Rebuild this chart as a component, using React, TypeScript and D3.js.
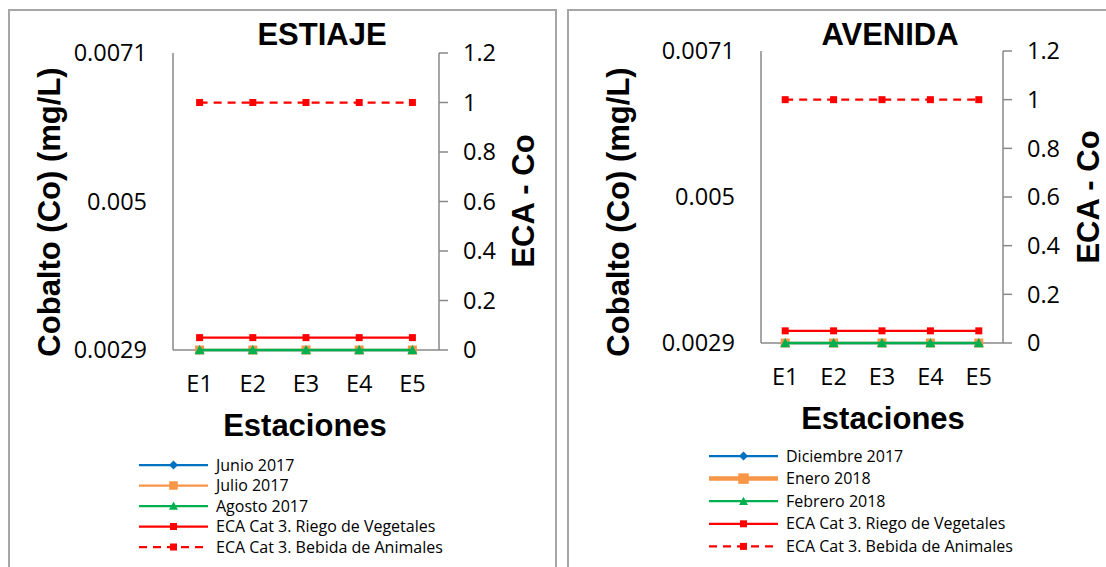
import React from "react";
import * as d3 from "d3";

// ---------- data ----------
const stations = ["E1", "E2", "E3", "E4", "E5"];
const coTicks = [0.0029, 0.005, 0.0071];
const ecaTicks = [0, 0.2, 0.4, 0.6, 0.8, 1, 1.2];

// Estiaje
const junio2017 = [0.0029, 0.0029, 0.0029, 0.0029, 0.0029];
const julio2017 = [0.0029, 0.0029, 0.0029, 0.0029, 0.0029];
const agosto2017 = [0.0029, 0.0029, 0.0029, 0.0029, 0.0029];
// Avenida
const diciembre2017 = [0.0029, 0.0029, 0.0029, 0.0029, 0.0029];
const enero2018 = [0.0029, 0.0029, 0.0029, 0.0029, 0.0029];
const febrero2018 = [0.0029, 0.0029, 0.0029, 0.0029, 0.0029];
// ECA (secondary axis)
const ecaRiego = [0.05, 0.05, 0.05, 0.05, 0.05];
const ecaBebida = [1, 1, 1, 1, 1];

const seriesNamesEstiaje = ["Junio 2017", "Julio 2017", "Agosto 2017"];
const seriesNamesAvenida = ["Diciembre 2017", "Enero 2018", "Febrero 2018"];
const ecaNames = ["ECA Cat 3. Riego de Vegetales", "ECA Cat 3. Bebida de Animales"];

// ---------- styles ----------
const BLUE = "#0070C0";
const ORANGE = "#F79646";
const GREEN = "#00B050";
const RED = "#FF0000";
const AXIS = "#898989";
const BORDER = "#A6A6A6";
const TICK_FONT = "'Open Sans', sans-serif";
const BOLD_FONT = "'Liberation Sans', Arial, sans-serif";

type Marker = "diamond" | "square" | "triangle";

function markerPath(kind: Marker, s: number): string {
  const h = s / 2;
  if (kind === "diamond") return `M0,${-h}L${h},0L0,${h}L${-h},0Z`;
  if (kind === "square") return `M${-h},${-h}H${h}V${h}H${-h}Z`;
  return `M0,${-h}L${h},${h * 0.85}L${-h},${h * 0.85}Z`;
}

interface SeriesDef {
  name: string;
  values: number[];
  color: string;
  marker: Marker;
  msize: number;
  width: number;
  dash?: string;
  secondary: boolean;
  legendWidth?: number;
  legendMsize?: number;
}

interface PanelProps {
  x0: number;
  x1: number;
  top: number;
  plotL: number;
  plotR: number;
  plotT: number;
  plotB: number;
  title: string;
  titleX: number;
  leftTitleX: number;
  rightTitleX: number;
  yTitleY: number;
  rightTitleY: number;
  xTitleX: number;
  legendX: number;
  legendY0: number;
  legendDy: number;
  series: SeriesDef[];
}

function Panel(p: PanelProps) {
  const x = d3.scalePoint<string>().domain(stations).range([p.plotL, p.plotR]).padding(0.5);
  const yL = d3.scaleLinear().domain([coTicks[0], coTicks[coTicks.length - 1]]).range([p.plotB, p.plotT]);
  const yR = d3.scaleLinear().domain([0, 1.2]).range([p.plotB, p.plotT]);

  return (
    <g>
      <rect x={p.x0} y={p.top} width={p.x1 - p.x0} height={600} fill="#fff" stroke={BORDER} strokeWidth={2} />
      <text x={p.titleX} y={45} textAnchor="middle" fontFamily={BOLD_FONT} fontWeight="bold" fontSize={31}>
        {p.title}
      </text>
      {/* left axis */}
      <line x1={p.plotL} x2={p.plotL} y1={p.plotT} y2={p.plotB} stroke={AXIS} strokeWidth={1.5} />
      {coTicks.map((t) => (
        <text key={t} x={p.plotL - 26} y={yL(t)} dy="0.35em" textAnchor="end" fontFamily={TICK_FONT} fontSize={23.5}>
          {String(t)}
        </text>
      ))}
      {/* bottom axis */}
      <line x1={p.plotL} x2={p.plotR} y1={p.plotB} y2={p.plotB} stroke={AXIS} strokeWidth={1.5} />
      {stations.map((s) => (
        <text key={s} x={x(s)} y={p.plotB + 34} dy="0.35em" textAnchor="middle" fontFamily={TICK_FONT} fontSize={23.5}>
          {s}
        </text>
      ))}
      {/* right axis */}
      <line x1={p.plotR} x2={p.plotR} y1={p.plotT} y2={p.plotB} stroke={AXIS} strokeWidth={1.5} />
      {ecaTicks.map((t) => (
        <g key={t}>
          <line x1={p.plotR} x2={p.plotR + 9} y1={yR(t)} y2={yR(t)} stroke={AXIS} strokeWidth={1.5} />
          <text x={p.plotR + 24} y={yR(t)} dy="0.35em" fontFamily={TICK_FONT} fontSize={23.5}>
            {String(t)}
          </text>
        </g>
      ))}
      {/* axis titles */}
      <text
        transform={`translate(${p.leftTitleX},${p.yTitleY}) rotate(-90)`}
        textAnchor="middle"
        dy="0.35em"
        fontFamily={BOLD_FONT}
        fontWeight="bold"
        fontSize={31}
      >
        Cobalto (Co) (mg/L)
      </text>
      <text
        transform={`translate(${p.rightTitleX},${p.rightTitleY}) rotate(-90)`}
        textAnchor="middle"
        dy="0.35em"
        fontFamily={BOLD_FONT}
        fontWeight="bold"
        fontSize={31}
      >
        ECA - Co
      </text>
      <text x={p.xTitleX} y={p.plotB + 75} dy="0.35em" textAnchor="middle" fontFamily={BOLD_FONT} fontWeight="bold" fontSize={31}>
        Estaciones
      </text>
      {/* series */}
      {p.series.map((s) => {
        const y = s.secondary ? yR : yL;
        const line = d3
          .line<number>()
          .x((_, i) => x(stations[i]) as number)
          .y((v) => y(v));
        return (
          <g key={s.name}>
            <path d={line(s.values) || ""} fill="none" stroke={s.color} strokeWidth={s.width} strokeDasharray={s.dash} />
            {s.values.map((v, i) => (
              <path
                key={i}
                transform={`translate(${x(stations[i])},${y(v)})`}
                d={markerPath(s.marker, s.msize)}
                fill={s.color}
              />
            ))}
          </g>
        );
      })}
      {/* legend */}
      {p.series.map((s, i) => {
        const ly = p.legendY0 + i * p.legendDy;
        const lw = s.legendWidth ?? 2.25;
        return (
          <g key={"lg" + s.name}>
            <line x1={p.legendX} x2={p.legendX + 69} y1={ly} y2={ly} stroke={s.color} strokeWidth={lw} strokeDasharray={s.dash} />
            <path
              transform={`translate(${p.legendX + 34.5},${ly})`}
              d={markerPath(s.marker, s.legendMsize ?? s.msize)}
              fill={s.color}
            />
            <text x={p.legendX + 77} y={ly} dy="0.35em" fontFamily={TICK_FONT} fontSize={16}>
              {s.name}
            </text>
          </g>
        );
      })}
    </g>
  );
}

function buildSeries(names: string[], a: number[], b: number[], c: number[], thickSecond: boolean): SeriesDef[] {
  return [
    { name: names[0], values: a, color: BLUE, marker: "diamond", msize: 9, width: 2.25, secondary: false },
    {
      name: names[1],
      values: b,
      color: ORANGE,
      marker: "square",
      msize: 9,
      width: 2.5,
      secondary: false,
      legendWidth: thickSecond ? 4.5 : 2.25,
      legendMsize: thickSecond ? 10.5 : 8.5,
    },
    { name: names[2], values: c, color: GREEN, marker: "triangle", msize: 10, width: 2.5, secondary: false, legendMsize: 9 },
    { name: ecaNames[0], values: ecaRiego, color: RED, marker: "square", msize: 7, width: 2.25, secondary: true },
    { name: ecaNames[1], values: ecaBebida, color: RED, marker: "square", msize: 7, width: 2.25, dash: "8,6", secondary: true },
  ];
}

export default function App() {
  return (
    <svg
      width={1106}
      height={567}
      viewBox="0 0 1106 567"
      style={{ position: "absolute", left: 0, top: 0, background: "#fff" }}
    >
      <rect x={0} y={0} width={1106} height={567} fill="#fff" />
      <Panel
        x0={9}
        x1={556}
        top={10}
        plotL={173}
        plotR={439}
        plotT={53}
        plotB={350}
        title="ESTIAJE"
        titleX={322}
        leftTitleX={49}
        rightTitleX={523}
        yTitleY={212}
        rightTitleY={201}
        xTitleX={305}
        legendX={139}
        legendY0={465}
        legendDy={20.5}
        series={buildSeries(seriesNamesEstiaje, junio2017, julio2017, agosto2017, false)}
      />
      <Panel
        x0={568}
        x1={1112}
        top={10}
        plotL={761}
        plotR={1003}
        plotT={51}
        plotB={343}
        title="AVENIDA"
        titleX={890}
        leftTitleX={618}
        rightTitleX={1088}
        yTitleY={212}
        rightTitleY={197}
        xTitleX={883}
        legendX={709}
        legendY0={456}
        legendDy={22.6}
        series={buildSeries(seriesNamesAvenida, diciembre2017, enero2018, febrero2018, true)}
      />
    </svg>
  );
}
